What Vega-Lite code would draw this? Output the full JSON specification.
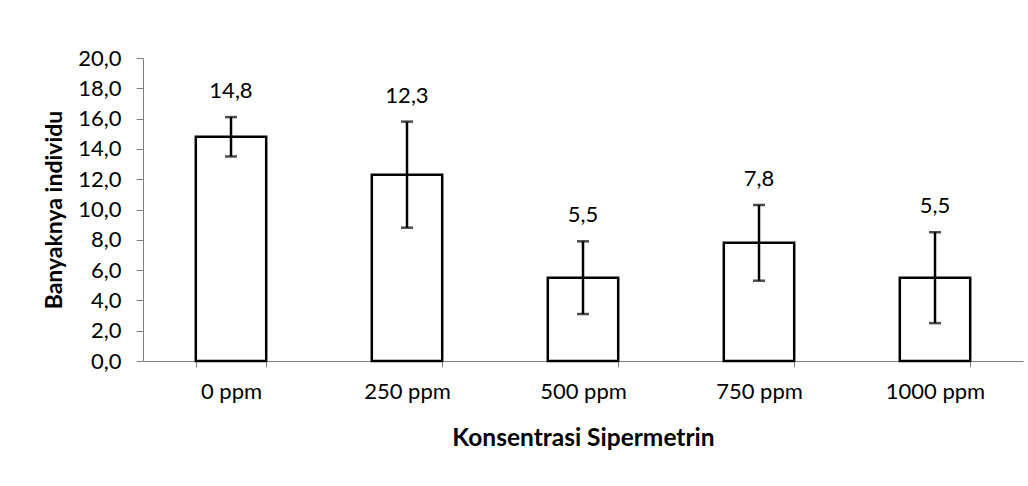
{
  "$schema": "https://vega.github.io/schema/vega-lite/v6.json",
  "width": 880,
  "height": 303,
  "autosize": {"type": "none"},
  "padding": {"left": 143, "top": 58, "right": 5, "bottom": 125},
  "background": "white",
  "config": {
    "view": {"stroke": null},
    "locale": {"number": {"decimal": ",", "thousands": ".", "grouping": [3], "currency": ["", ""]}},
    "font": "Lato",
    "axisY": {
      "titleFont": "Lato",
      "titleFontSize": 23,
      "titleFontWeight": "bold",
      "titleColor": "#000000",
      "titleX": -89,
      "titleBaseline": "middle",
      "titleAnchor": "middle",
      "labelOverlap": false,
      "labelFont": "Lato",
      "labelFontSize": 22,
      "labelColor": "#000000",
      "labelPadding": 15,
      "tickSize": 7,
      "tickColor": "#7f7f7f",
      "domainColor": "#7f7f7f",
      "domainWidth": 1,
      "grid": false
    }
  },
  "data": {
    "values": [
      {"konsentrasi": "0 ppm", "nilai": 14.8, "lo": 13.5, "hi": 16.1},
      {"konsentrasi": "250 ppm", "nilai": 12.3, "lo": 8.8, "hi": 15.8},
      {"konsentrasi": "500 ppm", "nilai": 5.5, "lo": 3.1, "hi": 7.9},
      {"konsentrasi": "750 ppm", "nilai": 7.8, "lo": 5.3, "hi": 10.3},
      {"konsentrasi": "1000 ppm", "nilai": 5.5, "lo": 2.5, "hi": 8.5}
    ]
  },
  "encoding": {
    "x": {
      "field": "konsentrasi",
      "type": "nominal",
      "sort": null,
      "scale": {"paddingInner": 0.6, "paddingOuter": 0.3},
      "axis": {
        "title": "Konsentrasi Sipermetrin",
        "titleFont": "Lato",
        "titleFontSize": 24.5,
        "titleFontWeight": "bold",
        "titleColor": "#000000",
        "titlePadding": 24,
        "labelAngle": 0,
        "labelFont": "Lato",
        "labelFontSize": 22,
        "labelColor": "#000000",
        "labelPadding": 14,
        "tickBand": "extent",
        "tickSize": 6,
        "tickColor": "#7f7f7f",
        "domainColor": "#7f7f7f",
        "domainWidth": 1,
        "grid": false
      }
    }
  },
  "layer": [
    {
      "mark": {"type": "bar", "fill": "white", "stroke": "black", "strokeWidth": 2.5},
      "encoding": {
        "y": {
          "field": "nilai",
          "type": "quantitative",
          "scale": {"domain": [0, 20], "nice": false},
          "axis": {"title": "Banyaknya individu", "values": [0, 2, 4, 6, 8, 10, 12, 14, 16, 18, 20], "format": ".1f"}
        }
      }
    },
    {
      "mark": {"type": "rule", "stroke": "black", "strokeWidth": 2.5},
      "encoding": {
        "y": {"field": "lo", "type": "quantitative", "axis": {"title": "Banyaknya individu", "values": [0, 2, 4, 6, 8, 10, 12, 14, 16, 18, 20], "format": ".1f"}},
        "y2": {"field": "hi"}
      }
    },
    {
      "mark": {"type": "tick", "color": "black", "size": 12, "thickness": 2.5, "orient": "horizontal"},
      "encoding": {"y": {"field": "lo", "type": "quantitative", "axis": {"title": "Banyaknya individu", "values": [0, 2, 4, 6, 8, 10, 12, 14, 16, 18, 20], "format": ".1f"}}}
    },
    {
      "mark": {"type": "tick", "color": "black", "size": 12, "thickness": 2.5, "orient": "horizontal"},
      "encoding": {"y": {"field": "hi", "type": "quantitative", "axis": {"title": "Banyaknya individu", "values": [0, 2, 4, 6, 8, 10, 12, 14, 16, 18, 20], "format": ".1f"}}}
    },
    {
      "mark": {"type": "text", "font": "Lato", "fontSize": 22, "color": "#000000", "baseline": "middle", "dy": -26},
      "encoding": {
        "y": {"field": "hi", "type": "quantitative", "axis": {"title": "Banyaknya individu", "values": [0, 2, 4, 6, 8, 10, 12, 14, 16, 18, 20], "format": ".1f"}},
        "text": {"field": "nilai", "type": "quantitative", "format": ".1f"}
      }
    }
  ]
}
